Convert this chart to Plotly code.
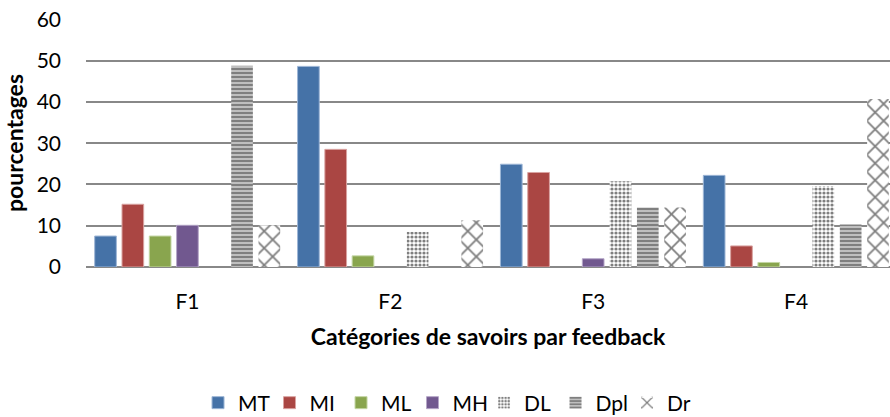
import plotly.graph_objects as go

categories = ["F1", "F2", "F3", "F4"]
series_names = ["MT", "MI", "ML", "MH", "DL", "Dpl", "Dr"]
MT = [7.5, 48.6, 24.9, 22.2]
MI = [15.2, 28.5, 22.9, 5.1]
ML = [7.5, 2.7, 0, 1.1]
MH = [10.1, 0, 2.0, 0]
DL = [0, 8.5, 20.8, 19.6]
Dpl = [48.75, 0, 14.4, 10.3]
Dr = [10.1, 11.3, 14.4, 40.7]
y_ticks = [0, 10, 20, 30, 40, 50, 60]

values = [MT, MI, ML, MH, DL, Dpl, Dr]
solid_colors = {"MT": ("#4572A7", "#9db6d6"), "MI": ("#AA4643", "#d9a3a1"),
                "ML": ("#89A54E", "#c4d6a4"), "MH": ("#71588F", "#b5a6c8")}
patterns = {"DL": (".", 4, 0.5), "Dpl": ("-", 4, 0.75), "Dr": ("x", 12, 0.28)}

FONT = "Lato, Carlito, 'Open Sans', sans-serif"

fig = go.Figure()
for name, vals in zip(series_names, values):
    if name in solid_colors:
        c, lc = solid_colors[name]
        marker = dict(color=c, line=dict(color=lc, width=[1 if v > 0 else 0 for v in vals]))
    else:
        shape, size, sol = patterns[name]
        marker = dict(color="white", line=dict(width=0),
                      pattern=dict(shape=shape, size=size, solidity=sol,
                                   fgcolor="black", bgcolor="white", fillmode="overlay"))
    fig.add_trace(go.Bar(name=name, x=categories, y=vals, marker=marker))

fig.update_layout(
    width=890, height=417,
    margin=dict(l=86, r=0, t=19, b=150),
    paper_bgcolor="white", plot_bgcolor="white",
    barmode="group", bargap=0.058, bargroupgap=0.206,
    font=dict(family=FONT, size=21, color="black"),
    showlegend=True,
    legend=dict(orientation="h", xref="container", yref="container",
                x=0.2225, xanchor="left", y=1 - 403 / 417, yanchor="middle",
                font=dict(size=21), itemwidth=30, tracegroupgap=0,
                entrywidth=26.5, entrywidthmode="pixels",
                bgcolor="rgba(0,0,0,0)"),
)
fig.update_xaxes(
    range=[-0.5, 3.463], showgrid=False, showline=False, zeroline=False,
    ticks="", ticklabelstandoff=20,
    title=dict(text="<b>Catégories de savoirs par feedback</b>", standoff=16,
               font=dict(size=23)),
)
fig.update_yaxes(
    range=[0, 60.08], tickvals=y_ticks, showgrid=True, gridcolor="#888888", gridwidth=1.5,
    zeroline=True, zerolinecolor="#888888", zerolinewidth=1.5, showline=False,
    ticks="", ticklabelstandoff=24,
    title=dict(text="<b>pourcentages</b>", standoff=9, font=dict(size=23)),
)

fig.write_html("out.html", config={"displayModeBar": False},
               post_script="document.body.style.margin='0';")
